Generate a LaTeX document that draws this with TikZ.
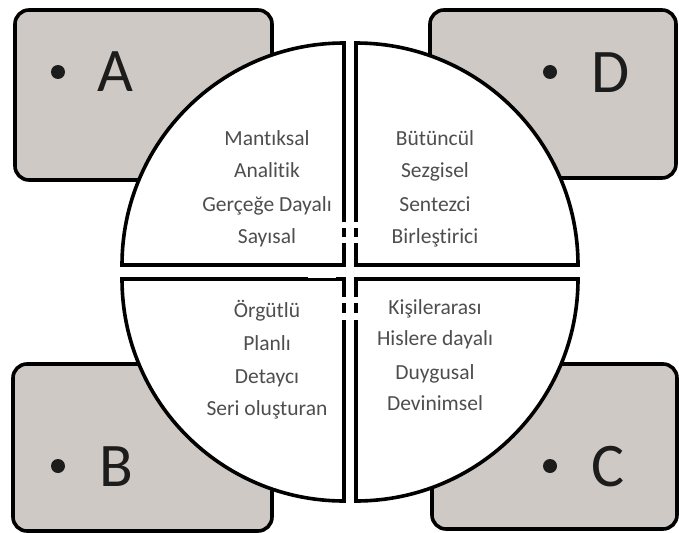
\documentclass[tikz,border=0pt]{standalone}
\usepackage{fontspec}
\setmainfont{Carlito}[Ligatures=NoCommon]
\definecolor{boxgray}{RGB}{207,201,197}
\definecolor{txtgray}{RGB}{78,78,78}
\definecolor{letterc}{RGB}{28,28,28}
\tikzset{
  cornerbox/.style={draw=black, line width=3.6pt, fill=boxgray, rounded corners=14pt, inner sep=0pt},
  quadrant/.style={draw=black, line width=3.6pt, fill=white, line join=miter},
  bigletter/.style={inner sep=0pt, text=letterc, font=\fontsize{62}{62}\selectfont},
  quadtext/.style={inner sep=0pt, anchor=base, text=txtgray, font=\fontsize{21.5}{26}\selectfont},
  bulletdot/.style={fill=letterc},
  gapcut/.style={fill=white}
}
\begin{document}
\begin{tikzpicture}[x=1pt, y=-1pt]
\useasboundingbox (0,0) rectangle (679,532);
% corner boxes
\node[cornerbox, minimum width=257pt, minimum height=170pt] (boxA) at (143.5,95) {};
\node[cornerbox, minimum width=246pt, minimum height=168pt] (boxD) at (553,94) {};
\node[cornerbox, minimum width=259pt, minimum height=167pt] (boxB) at (142.5,447.5) {};
\node[cornerbox, minimum width=245pt, minimum height=165pt] (boxC) at (554.5,446.5) {};
% bullets and letters
\fill[bulletdot] (58,72) circle[radius=7];
\fill[bulletdot] (550,72) circle[radius=7];
\fill[bulletdot] (58,466) circle[radius=7];
\fill[bulletdot] (550,466) circle[radius=7];
\node[bigletter] (letA) at (115,72) {A};
\node[bigletter] (letD) at (611,73) {D};
\node[bigletter] (letB) at (116,467) {B};
\node[bigletter] (letC) at (608,467) {C};
% quadrants
\draw[quadrant] (344,265) -- (122,265) arc[start angle=180, end angle=270, radius=222] -- cycle;
\draw[quadrant] (356,265) -- (356,43) arc[start angle=270, end angle=360, radius=222] -- cycle;
\draw[quadrant] (344,279) -- (344,501) arc[start angle=90, end angle=180, radius=222] -- cycle;
\draw[quadrant] (356,279) -- (578,279) arc[start angle=0, end angle=90, radius=222] -- cycle;
% small breaks in the vertical lines
\fill[gapcut] (337,222) rectangle (363,228);
\fill[gapcut] (337,237) rectangle (363,243);
\fill[gapcut] (337,297) rectangle (363,303);
\fill[gapcut] (337,313) rectangle (363,320);
\fill[gapcut] (308,276.2) rectangle (336,278);
% quadrant texts
\node[quadtext] (tl1) at (267,145) {Mantıksal};
\node[quadtext] (tl2) at (267,177) {Analitik};
\node[quadtext] (tl3) at (267,211) {Gerçeğe Dayalı};
\node[quadtext] (tl4) at (267,243) {Sayısal};
\node[quadtext] (tr1) at (435,145) {Bütüncül};
\node[quadtext] (tr2) at (435,177) {Sezgisel};
\node[quadtext] (tr3) at (435,211) {Sentezci};
\node[quadtext] (tr4) at (435,243) {Birleştirici};
\node[quadtext] (bl1) at (267,317) {Örgütlü};
\node[quadtext] (bl2) at (267,350) {Planlı};
\node[quadtext] (bl3) at (267,383) {Detaycı};
\node[quadtext] (bl4) at (267,415) {Seri oluşturan};
\node[quadtext] (br1) at (435,314) {Kişilerarası};
\node[quadtext] (br2) at (435,345) {Hislere dayalı};
\node[quadtext] (br3) at (435,379) {Duygusal};
\node[quadtext] (br4) at (435,410) {Devinimsel};
\end{tikzpicture}
\end{document}
